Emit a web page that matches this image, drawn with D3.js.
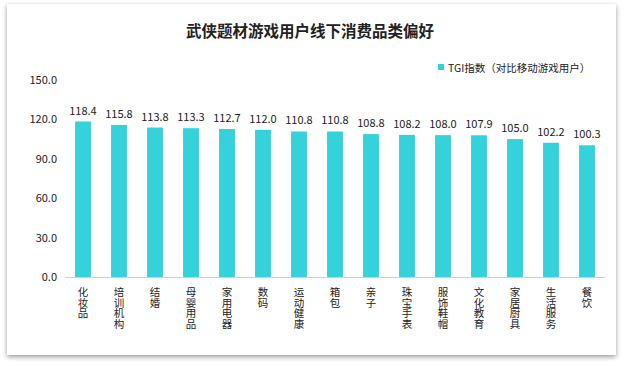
<!DOCTYPE html>
<html><head><meta charset="utf-8">
<script src="https://cdn.jsdelivr.net/npm/d3@7"></script>
<style>
html,body{margin:0;padding:0;background:#fff;}
svg{display:block;font-family:"Microsoft YaHei","Noto Sans CJK SC",sans-serif;}
</style></head>
<body><svg id="c" width="624" height="366"></svg>
<script>
const categories = ["化妆品","培训机构","结婚","母婴用品","家用电器","数码","运动健康","箱包","亲子","珠宝手表","服饰鞋帽","文化教育","家居厨具","生活服务","餐饮"];
const values = [118.4,115.8,113.8,113.3,112.7,112.0,110.8,110.8,108.8,108.2,108.0,107.9,105.0,102.2,100.3];
const yTicks = [0,30,60,90,120,150];
const title = "武侠题材游戏用户线下消费品类偏好";
const legendLabel = "TGI指数（对比移动游戏用户）";

const svg = d3.select("#c");
const defs = svg.append("defs");
const f = defs.append("filter").attr("id","sh").attr("x","-5%").attr("y","-5%").attr("width","110%").attr("height","115%");
f.append("feDropShadow").attr("dx",0).attr("dy",2).attr("stdDeviation",2.5).attr("flood-color","#000").attr("flood-opacity",0.4);
svg.append("rect").attr("x",7).attr("y",4).attr("width",609).attr("height",351).attr("fill","#fff").attr("filter","url(#sh)");

svg.append("text").attr("x",310).attr("y",37).attr("text-anchor","middle")
  .attr("font-size",15.5).attr("font-weight","bold").attr("fill","#222").text(title);

const x = d3.scaleBand().domain(categories).range([65,605]).paddingInner(0.56).paddingOuter(0.28);
const y = d3.scaleLinear().domain([0,150]).range([277,80]);

const ya = svg.append("g").attr("transform","translate(65,0)")
  .call(d3.axisLeft(y).tickValues(yTicks).tickFormat(d3.format(".1f")).tickSize(0).tickPadding(8));
ya.select(".domain").remove();
ya.selectAll("text").attr("font-size",11).attr("fill","#222").attr("font-family","\"Microsoft YaHei\",\"Noto Sans CJK SC\",sans-serif");

svg.append("g").selectAll("rect").data(values).join("rect")
  .attr("x",(d,i)=>x(categories[i])).attr("width",x.bandwidth())
  .attr("y",d=>y(d)).attr("height",d=>y(0)-y(d)).attr("fill","#36D2DC");

svg.append("g").selectAll("text").data(values).join("text")
  .attr("x",(d,i)=>x(categories[i])+x.bandwidth()/2).attr("y",d=>y(d)-7)
  .attr("text-anchor","middle").attr("font-size",11).attr("fill","#222").text(d=>d.toFixed(1));

svg.append("line").attr("x1",65).attr("x2",605).attr("y1",y(0)+0.5).attr("y2",y(0)+0.5).attr("stroke","#d0d0d0").attr("stroke-width",1);

const xl = svg.append("g");
categories.forEach(c=>{
  const cx = x(c)+x.bandwidth()/2;
  const t = xl.append("text").attr("text-anchor","middle").attr("font-size",10.5).attr("fill","#222");
  Array.from(c).forEach((ch,j)=>{
    t.append("tspan").attr("x",cx).attr("y",296+j*10.5).text(ch);
  });
});

svg.append("rect").attr("x",438).attr("y",64).attr("width",6).attr("height",6).attr("fill","#36D2DC");
svg.append("text").attr("x",448).attr("y",71.5).attr("font-size",10.5).attr("fill","#222").text(legendLabel);
</script></body></html>
